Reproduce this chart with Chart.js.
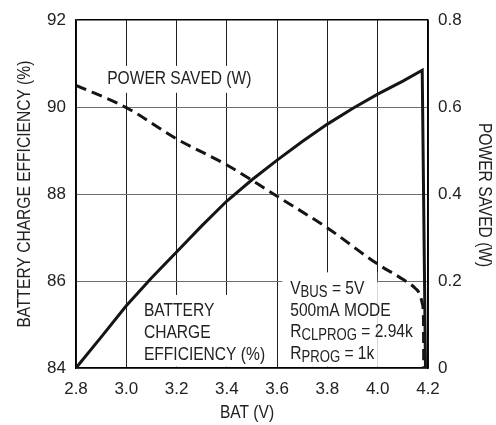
<!DOCTYPE html>
<html><head><meta charset="utf-8">
<script src="https://cdn.jsdelivr.net/npm/chart.js@4/dist/chart.umd.min.js"></script>
<style>html,body{margin:0;padding:0;background:#fff}#wrap{width:496px;height:425px;position:relative}canvas{display:block}</style>
</head><body><div id="wrap"><canvas id="c" width="496" height="425" style="width:496px;height:425px"></canvas></div>
<script>
// ---- data ----
const batV = [2.8, 2.9, 3.0, 3.1, 3.2, 3.3, 3.4, 3.5, 3.6, 3.7, 3.8, 3.9, 4.0, 4.1, 4.177, 4.19];
const efficiency = [84.0, 84.71, 85.43, 86.07, 86.67, 87.27, 87.84, 88.33, 88.78, 89.21, 89.61, 89.97, 90.30, 90.60, 90.85, 84.0];
const powerV = [2.8, 3.0, 3.2, 3.4, 3.6, 3.8, 4.0, 4.1, 4.15, 4.165, 4.178, 4.182, 4.183];
const powerSaved = [0.650, 0.599, 0.527, 0.467, 0.395, 0.322, 0.239, 0.204, 0.183, 0.172, 0.147, 0.11, 0.0];
const xTicks = [2.8, 3.0, 3.2, 3.4, 3.6, 3.8, 4.0, 4.2];
const xTickLabels = ['2.8', '3.0', '3.2', '3.4', '3.6', '3.8', '4.0', '4.2'];
const effTicks = [84, 86, 88, 90, 92];
const effTickLabels = ['84', '86', '88', '90', '92'];
const powerTicks = [0, 0.2, 0.4, 0.6, 0.8];
const powerTickLabels = ['0', '0.2', '0.4', '0.6', '0.8'];

// ---- font ----
function hasFont(name) {
  const c = document.createElement('canvas').getContext('2d');
  const s = 'POWER SAVED (W) 0123';
  c.font = '20px monospace'; const a = c.measureText(s).width;
  c.font = '20px "' + name + '", monospace'; const b = c.measureText(s).width;
  return a !== b;
}
const NARROW = hasFont('Liberation Sans Narrow');
const FAM = NARROW ? '"Liberation Sans Narrow"' : '"Liberation Sans", Arial, sans-serif';
const HS = NARROW ? 1 : 0.82;          // horizontal condensing for label text
const TICK_SIZE = NARROW ? 19 : 17;
const TXT = '#222';

function tickSetter(vals) {
  return scale => { scale.ticks = vals.map(v => ({ value: v })); };
}

const annot = {
  id: 'annot',
  beforeDatasetsDraw(chart) {
    const { ctx, scales: { x, y } } = chart;
    ctx.save();
    ctx.fillStyle = '#fff';
    const box = (x0, x1, y0, y1) => {
      const a = x.getPixelForValue(x0), b = x.getPixelForValue(x1);
      const c = y.getPixelForValue(y0), d = y.getPixelForValue(y1);
      ctx.fillRect(a, c, b - a, d - c);
    };
    box(2.895, 3.53, 90.95, 90.33);
    box(3.03, 3.57, 85.68, 84.03);
    box(3.62, 3.998, 86.2, 84.03);
    box(3.998, 4.175, 85.97, 84.03);
    ctx.restore();
  },
  afterDatasetsDraw(chart) {
    const { ctx, scales: { x, y } } = chart;
    ctx.save();
    ctx.fillStyle = TXT;
    ctx.textBaseline = 'alphabetic';
    ctx.textAlign = 'left';
    const big = '19px ' + FAM, small = '16px ' + FAM;
    const line = (parts, px, py) => {
      ctx.save();
      ctx.translate(px, py);
      ctx.scale(HS, 1);
      let cx = 0;
      for (const p of parts) {
        ctx.font = p.sub ? small : big;
        ctx.fillText(p.t, cx, p.sub ? 3 : 0);
        cx += ctx.measureText(p.t).width;
      }
      ctx.restore();
    };
    line([{ t: 'POWER SAVED (W)' }], x.getPixelForValue(2.924), y.getPixelForValue(90.53));
    const bx = x.getPixelForValue(3.07), by = y.getPixelForValue(85.19);
    ['BATTERY', 'CHARGE', 'EFFICIENCY (%)'].forEach((t, i) => line([{ t }], bx, by + i * 22));
    const vx = x.getPixelForValue(3.652), vy = y.getPixelForValue(85.7);
    const rows = [
      [{ t: 'V' }, { t: 'BUS', sub: true }, { t: ' = 5V' }],
      [{ t: '500mA MODE' }],
      [{ t: 'R' }, { t: 'CLPROG', sub: true }, { t: ' = 2.94k' }],
      [{ t: 'R' }, { t: 'PROG', sub: true }, { t: ' = 1k' }]
    ];
    rows.forEach((r, i) => line(r, vx, vy + i * 21.7));
    ctx.restore();
  },
  afterDraw(chart) {
    const { ctx, chartArea: ca } = chart;
    ctx.save();
    ctx.fillStyle = TXT;
    ctx.font = '19px ' + FAM;
    ctx.textAlign = 'center';
    ctx.textBaseline = 'alphabetic';
    const midY = (ca.top + ca.bottom) / 2;
    ctx.save(); ctx.translate(29.5, midY); ctx.rotate(-Math.PI / 2); ctx.scale(HS, 1);
    ctx.fillText('BATTERY CHARGE EFFICIENCY (%)', 0, 0); ctx.restore();
    ctx.save(); ctx.translate(478.5, midY + 1); ctx.rotate(Math.PI / 2); ctx.scale(HS, 1);
    ctx.fillText('POWER SAVED (W)', 0, 0); ctx.restore();
    ctx.save(); ctx.translate((ca.left + ca.right) / 2 - 5, 418); ctx.scale(HS, 1);
    ctx.fillText('BAT (V)', 0, 0); ctx.restore();
    ctx.restore();
  }
};

new Chart(document.getElementById('c'), {
  type: 'line',
  data: {
    datasets: [
      {
        label: 'Battery charge efficiency (%)',
        data: batV.map((v, i) => ({ x: v, y: efficiency[i] })),
        yAxisID: 'y',
        borderColor: '#151515', borderWidth: 3, pointRadius: 0,
        tension: 0, fill: false, borderJoinStyle: 'miter'
      },
      {
        label: 'Power saved (W)',
        data: powerV.map((v, i) => ({ x: v, y: powerSaved[i] })),
        yAxisID: 'y2',
        borderColor: '#151515', borderWidth: 3, borderDash: [11, 6], pointRadius: 0,
        cubicInterpolationMode: 'monotone', fill: false
      }
    ]
  },
  options: {
    responsive: false,
    maintainAspectRatio: false,
    animation: false,
    devicePixelRatio: 1,
    layout: { padding: { top: 17, left: 0, right: 0, bottom: 0 } },
    plugins: { legend: { display: false }, tooltip: { enabled: false } },
    scales: {
      x: {
        type: 'linear', min: 2.8, max: 4.2,
        afterBuildTicks: tickSetter(xTicks),
        afterFit: s => { s.height = 57; },
        grid: { color: '#1e1e1e', lineWidth: 1, drawTicks: false },
        border: { display: true, color: '#000', width: 1.5 },
        ticks: {
          padding: 11, color: TXT, font: { family: FAM, size: TICK_SIZE },
          minRotation: 0, maxRotation: 0, autoSkip: false,
          callback: (v) => xTickLabels[xTicks.findIndex(t => Math.abs(t - v) < 1e-6)] ?? ''
        }
      },
      y: {
        type: 'linear', position: 'left', min: 84, max: 92,
        afterBuildTicks: tickSetter(effTicks),
        afterFit: s => { s.width = 76; },
        grid: {
          drawTicks: false,
          color: c => c.tick && c.tick.value === 92 ? '#000' : '#6e6e6e',
          lineWidth: c => c.tick && c.tick.value === 92 ? 1.5 : 1
        },
        border: { display: true, color: '#000', width: 1.5 },
        ticks: {
          padding: 10, color: TXT, font: { family: FAM, size: TICK_SIZE }, autoSkip: false,
          callback: (v) => effTickLabels[effTicks.indexOf(v)] ?? ''
        }
      },
      y2: {
        type: 'linear', position: 'right', min: 0, max: 0.8,
        afterBuildTicks: tickSetter(powerTicks),
        afterFit: s => { s.width = 68; },
        grid: { drawOnChartArea: false, drawTicks: false },
        border: { display: true, color: '#000', width: 1.5 },
        ticks: {
          padding: 10, color: TXT, font: { family: FAM, size: TICK_SIZE }, autoSkip: false,
          callback: (v) => powerTickLabels[powerTicks.findIndex(t => Math.abs(t - v) < 1e-6)] ?? ''
        }
      }
    }
  },
  plugins: [annot]
});
</script>
</body></html>
